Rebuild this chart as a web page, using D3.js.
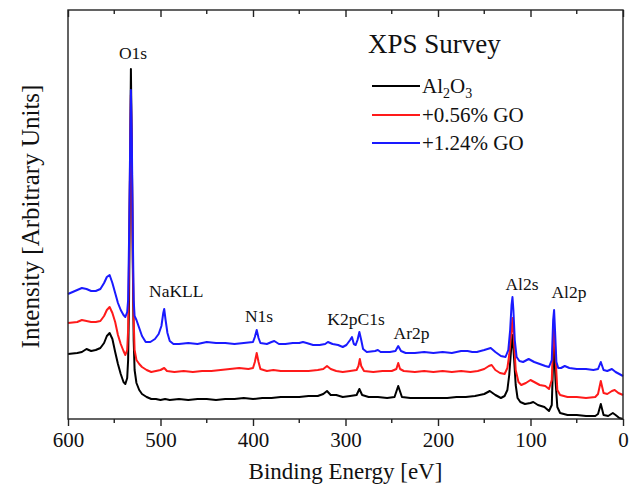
<!DOCTYPE html>
<html><head><meta charset="utf-8">
<script src="https://cdn.jsdelivr.net/npm/d3@7"></script>
<style>body{margin:0;background:#fff}svg{display:block}text{font-family:"Liberation Serif","Times New Roman",serif;fill:#111}</style>
</head><body><svg id="c" width="638" height="494"></svg>
<script>
// Binding energy (eV) vs intensity (arbitrary units)
const al2o3 = [[600,65],[590,66],[585,67],[580,70],[575,68],[570,69],[565,71],[561,76],[558,83],[555,86],[552,80],[549,67],[546,55],[543,45],[540,37],[538,35],[536,41],[535,59],[534,119],[533,239],[532,350],[531,269],[530,159],[529,79],[528,49],[526,36],[523,29],[520,25],[515,22],[510,20],[505,20],[500,19],[495,20],[490,19],[480,20],[470,19],[460,20],[450,20],[440,19],[430,20],[420,20],[410,21],[400,20],[390,21],[380,21],[370,22],[360,22],[350,22],[340,23],[330,23],[324,25],[320,28],[316,24],[310,24],[303,22],[295,23],[288,24],[285,30],[282,24],[275,22],[265,22],[255,21],[247,22],[243,33],[239,22],[230,21],[220,21],[210,21],[200,21],[190,21],[180,22],[170,22],[160,23],[150,25],[144,28],[138,24],[132,21],[128,23],[125,29],[123,44],[121,69],[119.5,84],[118,64],[116,34],[114,21],[111,17],[106,15],[100,16],[97,17],[92,14],[85,12],[80,8],[77,14],[75.5,59],[74.5,74],[73,39],[71,12],[68,6],[60,4],[50,4],[40,3],[30,3],[27,5],[24,15],[21,4],[16,3],[11,6],[8,4],[4,1],[0,0]];
const go056 = [[600,96],[590,97],[585,99],[580,98],[575,97],[570,97],[565,98],[561,103],[558,109],[555,112],[552,106],[549,97],[546,84],[543,75],[540,68],[538,64],[536,69],[535,89],[534,159],[533,249],[532,324],[531,259],[530,169],[529,99],[528,69],[526,59],[523,55],[520,52],[515,49],[510,47],[505,48],[500,49],[496,51],[493,48],[485,47],[475,48],[465,47],[455,48],[445,48],[435,49],[425,50],[415,51],[405,50],[400,51],[398,57],[396,66],[394,57],[392,50],[385,48],[378,49],[370,48],[360,48],[350,48],[340,48],[330,49],[324,50],[320,53],[316,50],[310,48],[303,47],[295,48],[288,49],[286,53],[284.5,60],[283,53],[280,48],[270,47],[260,48],[250,48],[245,50],[243,56],[241,50],[237,48],[225,47],[215,48],[205,47],[195,48],[185,47],[175,48],[165,47],[157,48],[150,50],[145,53],[142,54],[138,49],[133,46],[128,45],[125,51],[123,64],[121,84],[119.5,101],[118,81],[116,49],[113,37],[110,34],[105,36],[100,39],[96,37],[90,34],[84,33],[80,30],[77,39],[75.5,79],[74.5,91],[73,64],[71,29],[68,24],[60,22],[50,22],[40,21],[30,22],[27,25],[24,38],[21,26],[17,25],[12,28],[9,29],[5,26],[0,24]];
const go124 = [[600,125],[595,127],[590,129],[585,131],[580,130],[575,128],[570,128],[565,130],[561,136],[558,142],[555,144],[552,136],[549,126],[546,116],[543,109],[540,104],[538,102],[536,107],[535,119],[534,179],[533,259],[532,329],[531,279],[530,189],[529,119],[528,103],[526,99],[523,91],[520,83],[516,77],[511,77],[506,80],[502,85],[499,93],[497,106],[496,110],[494.5,99],[492.5,86],[490,78],[486,75],[480,75],[470,76],[460,75],[450,77],[440,76],[430,76],[420,75],[410,76],[400,77],[398,82],[396,89],[394,81],[392,76],[385,75],[380,77],[377,78],[372,75],[365,75],[357,76],[350,76],[346,77],[342,76],[335,74],[328,74],[322,75],[319,77],[314,75],[308,74],[303,72],[299,74],[295,79],[293,82],[291,75],[289,74],[287,79],[285,87],[283,79],[281,70],[277,67],[268,68],[265,69],[262,67],[252,67],[246,68],[243,73],[240,68],[235,66],[225,66],[215,67],[205,66],[195,67],[185,66],[175,68],[168,68],[163,67],[158,67],[150,69],[143,71],[138,67],[132,63],[127,62],[124,69],[122,89],[120.5,114],[119.5,122],[118.5,109],[117,79],[115,62],[112,58],[108,57],[102,60],[96,57],[90,55],[84,53],[80,52],[77,59],[75.5,99],[74.5,109],[73.5,89],[72,57],[70,51],[67,51],[63,53],[58,51],[50,50],[40,50],[32,49],[27,50],[24,57],[21,49],[17,48],[12,50],[8,47],[4,45],[0,43]];
const seriesNames = ["Al2O3", "+0.56% GO", "+1.24% GO"];
const seriesColors = ["#000000", "#ff1a1a", "#1a1aff"];
const xTicks = [600, 500, 400, 300, 200, 100, 0];
const xMinorTicks = [550, 450, 350, 250, 150, 50];
const peakNames = ["O1s", "NaKLL", "N1s", "K2pC1s", "Ar2p", "Al2s", "Al2p"];
const peakEnergies = [529.7, 483, 393.5, 288.6, 228.6, 109.2, 58.4];
const peakLevels = [360, 122, 97, 94, 80, 129, 121];

const svg = d3.select("#c");
const m = {l:68, r:15, t:10, b:75};
const W = 638, H = 494;
const x = d3.scaleLinear().domain([600, 0]).range([m.l, W - m.r]);
const y = d3.scaleLinear().domain([0, 409]).range([H - m.b, m.t]);

const data = [al2o3, go056, go124];
const line = d3.line().x(d => x(d[0])).y(d => y(d[1]));
data.forEach((s, i) => {
  svg.append("path").datum(s).attr("d", line).attr("fill", "none")
    .attr("stroke", seriesColors[i]).attr("stroke-width", 2).attr("stroke-linejoin", "round");
});

// frame
svg.append("rect").attr("x", x(600)).attr("y", y(409)).attr("width", x(0) - x(600)).attr("height", y(0) - y(409))
  .attr("fill", "none").attr("stroke", "#222").attr("stroke-width", 1.4);

// bottom axis
const gb = svg.append("g").attr("transform", `translate(0,${y(0)})`);
gb.call(d3.axisBottom(x).tickValues(xTicks).tickSize(7).tickPadding(6).tickFormat(d3.format("d")));
gb.call(g => g.selectAll(".minor").data(xMinorTicks).join("line").attr("class","minor")
  .attr("x1", d => x(d)).attr("x2", d => x(d)).attr("y1", 0).attr("y2", 4).attr("stroke", "#222").attr("stroke-width", 1.4));
gb.select(".domain").remove();
gb.selectAll(".tick line").attr("stroke", "#222").attr("stroke-width", 1.4);
gb.selectAll(".tick text").attr("font-size", 21).attr("font-family", "Liberation Serif").attr("fill", "#111");

// top axis (inward ticks)
const gt = svg.append("g").attr("transform", `translate(0,${y(409)})`);
gt.call(d3.axisBottom(x).tickValues(xTicks).tickSize(7).tickFormat(""));
gt.call(g => g.selectAll(".minor").data(xMinorTicks).join("line").attr("class","minor")
  .attr("x1", d => x(d)).attr("x2", d => x(d)).attr("y1", 0).attr("y2", 4).attr("stroke", "#222").attr("stroke-width", 1.4));
gt.select(".domain").remove();
gt.selectAll(".tick line").attr("stroke", "#222").attr("stroke-width", 1.4);

// axis titles
svg.append("text").attr("x", (x(600) + x(0)) / 2).attr("y", 479).attr("text-anchor", "middle")
  .attr("font-size", 23).text("Binding Energy [eV]");
svg.append("text").attr("transform", `translate(39,${(y(0) + y(409)) / 2 + 2}) rotate(-90)`).attr("text-anchor", "middle")
  .attr("font-size", 25).text("Intensity [Arbitrary Units]");

// peak labels
peakNames.forEach((n, i) => {
  svg.append("text").attr("x", x(peakEnergies[i])).attr("y", y(peakLevels[i])).attr("text-anchor", "middle")
    .attr("font-size", 17.5).text(n);
});

// legend
svg.append("text").attr("x", 368).attr("y", 53).attr("font-size", 27).text("XPS Survey");
const legY = [86, 115, 143];
seriesNames.forEach((n, i) => {
  svg.append("line").attr("x1", 372).attr("x2", 420).attr("y1", legY[i]).attr("y2", legY[i])
    .attr("stroke", seriesColors[i]).attr("stroke-width", 2);
  const t = svg.append("text").attr("x", 422).attr("y", legY[i] + 7).attr("font-size", 21);
  if (i === 0) {
    t.append("tspan").text("Al");
    t.append("tspan").attr("font-size", 14).attr("dy", 5).text("2");
    t.append("tspan").attr("dy", -5).text("O");
    t.append("tspan").attr("font-size", 14).attr("dy", 5).text("3");
  } else {
    t.text(n);
  }
});
</script></body></html>
